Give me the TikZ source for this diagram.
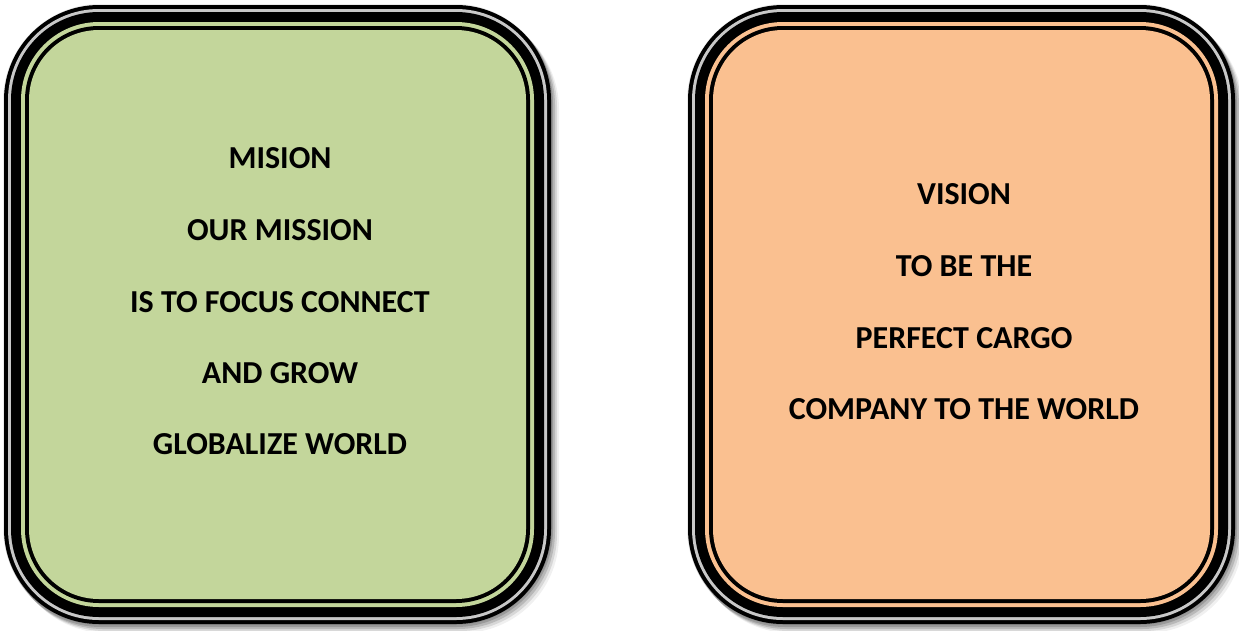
\documentclass[tikz,border=0pt]{standalone}
\usepackage{fontspec}
\setmainfont{Carlito}
\definecolor{greenfill}{HTML}{C3D69B}
\definecolor{orangefill}{HTML}{FAC090}
\definecolor{ringgray}{RGB}{200,200,200}
\tikzset{
  txt/.style={anchor=base, inner sep=0pt, font=\fontsize{32}{36}\selectfont\bfseries, text=black},
}
\newcommand{\fancybox}[5]{% x1 y1 x2 y2 fillcolor
  \foreach \dx/\dy/\op in {7/8/0.06,5/6/0.10,3/4/0.14,1/2/0.16,0/0/0.08}{
    \fill[black, opacity=\op, rounded corners=97pt] (#1-1+\dx,#2-1+\dy) rectangle (#3+1+\dx,#4+1+\dy);
  }
  \fill[black, rounded corners=95pt] (#1,#2) rectangle (#3,#4);
  \fill[ringgray, rounded corners=91pt] (#1+4,#2+4) rectangle (#3-4,#4-4);
  \fill[black, rounded corners=88pt] (#1+7,#2+7) rectangle (#3-7,#4-7);
  \fill[#5, rounded corners=78pt] (#1+17,#2+17) rectangle (#3-17,#4-17);
  \fill[black, rounded corners=74pt] (#1+21,#2+21) rectangle (#3-21,#4-21);
  \fill[#5, rounded corners=70pt] (#1+25,#2+25) rectangle (#3-25,#4-25);
}
\begin{document}
\begin{tikzpicture}[x=1pt,y=-1pt]
\fill[white] (0,0) rectangle (1239,630);
\useasboundingbox (0,0) rectangle (1239,630);
\fancybox{4}{5}{551}{624}{greenfill}
\fancybox{688}{5}{1235}{624}{orangefill}
% left text
\node[txt] (m1) at (280,168) {MISION};
\node[txt] (m2) at (280,240) {OUR MISSION};
\node[txt] (m3) at (280,312) {IS TO FOCUS CONNECT};
\node[txt] (m4) at (280,383) {AND GROW};
\node[txt] (m5) at (280,454) {GLOBALIZE WORLD};
% right text
\node[txt] (v1) at (964,204) {VISION};
\node[txt] (v2) at (964,276) {TO BE THE};
\node[txt] (v3) at (964,348) {PERFECT CARGO};
\node[txt] (v4) at (964,419) {COMPANY TO THE WORLD};
\end{tikzpicture}
\end{document}
